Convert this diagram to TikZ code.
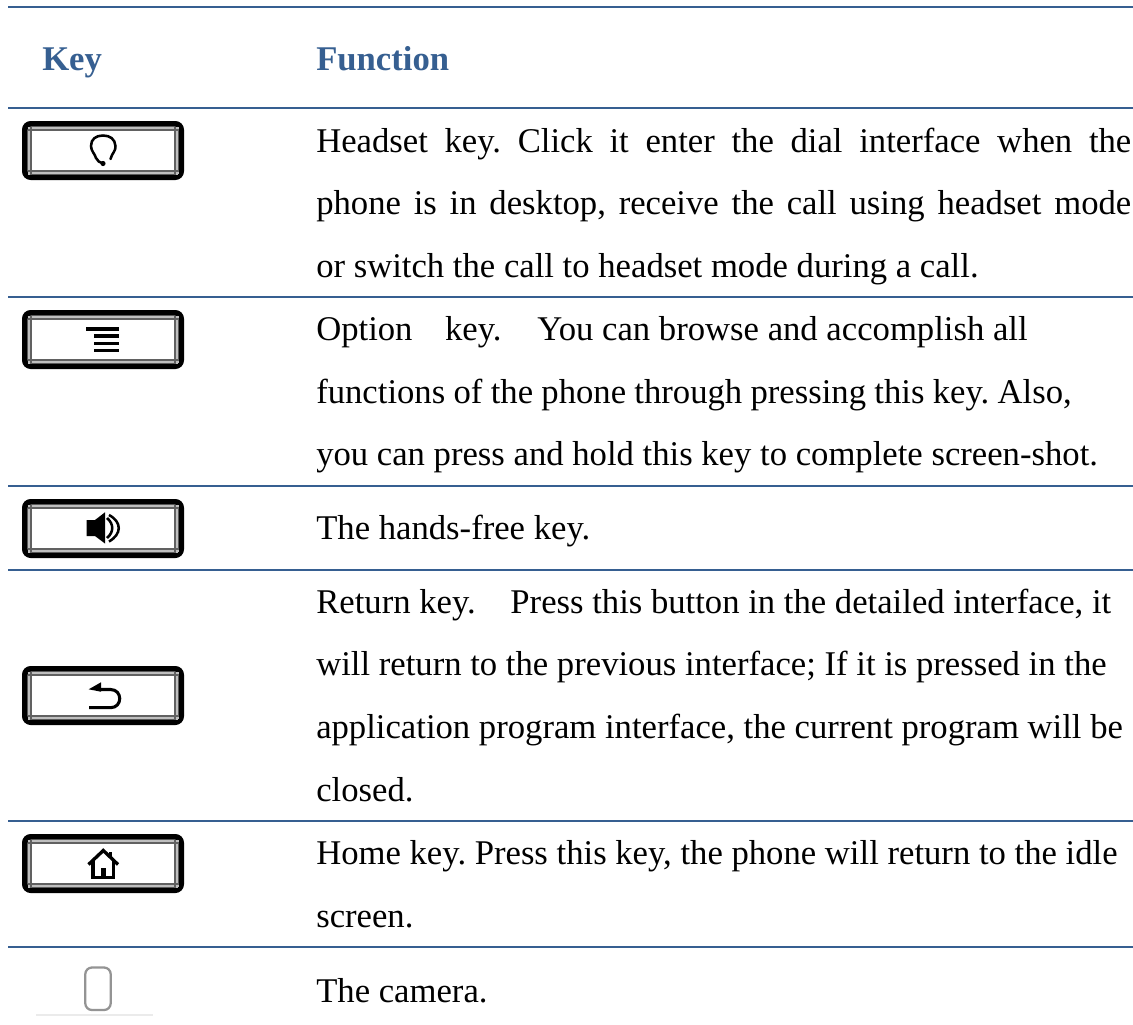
\documentclass[tikz,border=0pt]{standalone}
\usepackage{fontspec}
\setmainfont{Liberation Serif}
\frenchspacing
\definecolor{rule}{HTML}{365F91}
\definecolor{head}{HTML}{365F91}
\newlength{\px}\setlength{\px}{0.75pt}
\tikzset{x=0.75pt,y=-0.75pt,
  rowline/.style={draw=rule,line width=1.5pt},
  txt/.style={anchor=base west,inner sep=0pt,font=\fontsize{26pt}{30pt}\selectfont,text=black},
  hd/.style={anchor=base west,inner sep=0pt,font=\fontsize{26pt}{30pt}\selectfont\bfseries,text=head},
  glyph/.style={line width=2.5pt,black},
  thin glyph/.style={line width=1.9pt,black},
}
\newcommand{\keybox}[1]{%
  \begin{scope}[shift={(22,#1)}]
    \fill[white] (0,0) rectangle (162,59);
    \draw[black,line width=4.2pt,rounded corners=4.5pt] (2.8,2.8) rectangle (159.2,56.2);
    \draw[black!25,line width=1.1pt] (5.5,7.2) -- (156.5,7.2) (5.5,51.8) -- (156.5,51.8) (6.8,5.5) -- (6.8,53.5) (155.2,5.5) -- (155.2,53.5);
    \draw[black!62,line width=1.1pt] (5.5,9) -- (156.5,9) (5.5,50) -- (156.5,50) (9.2,5.5) -- (9.2,53.5) (152.8,5.5) -- (152.8,53.5);
  \end{scope}}
\begin{document}
\begin{tikzpicture}
\useasboundingbox (0,0) rectangle (1133,1025);
\fill[white] (0,0) rectangle (1133,1025);
\foreach \yy in {7,108,296.7,485.7,570,820.7,946.7} \draw[rowline] (8,\yy) -- (1133,\yy);
\node[hd] (k) at (42,70) {Key};
\node[hd] (f) at (316,70) {Function};
\newcommand{\jl}[3]{\node[txt] (#1) at (316,#2) {\hbox to 815\px{#3}};}
\newcommand{\nl}[3]{\node[txt] (#1) at (316,#2) {#3};}
\jl{a1}{152}{Headset key. Click it enter the dial interface when the}
\jl{a2}{214.5}{phone is in desktop, receive the call using headset mode}
\nl{a3}{277}{or switch the call to headset mode during a call.}
\nl{b1}{340.5}{Option\hspace{0.94em}key.\hspace{1.03em}You can browse and accomplish all}
\node[txt] (b2) at (316,403.3) {\hbox to 755.5\px{functions of the phone through pressing this key. Also,}};
\nl{b3}{465.8}{you can press and hold this key to complete screen-shot.}
\nl{c1}{539}{The hands-free key.}
\nl{d1}{613}{Return key.\hspace{1em}Press this button in the detailed interface, it}
\nl{d2}{675.7}{will return to the previous interface; If it is pressed in the}
\nl{d3}{738.4}{application program interface, the current program will be}
\nl{d4}{801.7}{closed.}
\nl{e1}{864}{Home key. Press this key, the phone will return to the idle}
\nl{e2}{927.3}{screen.}
\nl{g1}{1002}{The camera.}
\keybox{121}
\keybox{310}
\keybox{499}
\keybox{666}
\keybox{834}
% headset glyph
\draw[thin glyph,line cap=round] (110.5,159) .. controls (112,153) and (116,151) .. (115.5,146) .. controls (115,139) and (110,135.5) .. (103,135.5) .. controls (96,135.5) and (91,139) .. (91,146) .. controls (91,151) and (95,154) .. (96,158) .. controls (97,161) and (100,162.5) .. (103,163.5);
\fill (103,163.5) circle[radius=2.6];
% menu glyph
\draw[glyph] (86,329) -- (119.3,329) (94.3,336) -- (119.3,336) (94.3,343.2) -- (119.3,343.2) (94.3,350.3) -- (119.3,350.3);
% speaker glyph
\fill (86.7,520) -- (95,520) -- (105,512.3) -- (105,543.5) -- (95,536) -- (86.7,536) -- cycle;
\draw[thin glyph] (107,518) .. controls (114,524) and (114,532) .. (107,538);
\draw[thin glyph] (109,515) .. controls (122,522) and (122,534) .. (109,541.5);
% return glyph
\fill (88.7,689.3) -- (101,682.3) -- (101,691.7) -- cycle;
\draw[thin glyph,line width=2.3pt] (99,689.5) -- (110.5,689.5) .. controls (122.8,689.5) and (122.8,707.7) .. (110.5,707.7) -- (89,707.7);
% home glyph
\draw[glyph,line join=miter] (88.5,864.5) -- (103.3,850.5) -- (118,864.5);
\draw[glyph] (93,860) -- (93,877.3) -- (113.7,877.3) -- (113.7,860);
\fill (100.6,868) rectangle (106,878);
\fill (108.7,851.5) rectangle (111.5,858);
% camera glyph
\draw[black!42,line width=1.7pt,rounded corners=5pt] (85.3,967.5) rectangle (110.7,1010);
\draw[black!8,line width=1.2pt] (36,1014.7) -- (152.7,1014.7);
\end{tikzpicture}
\end{document}
